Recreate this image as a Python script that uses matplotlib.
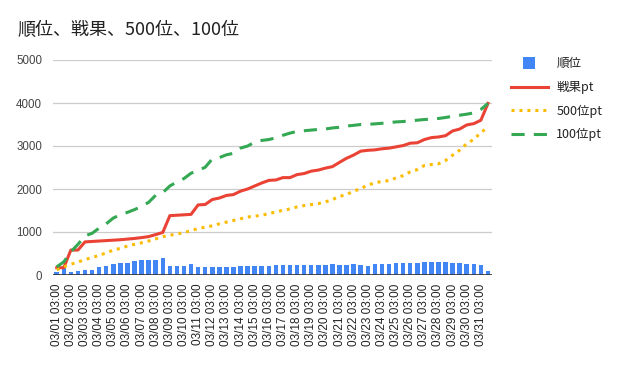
import numpy as np
import matplotlib
matplotlib.use("Agg")
import matplotlib.pyplot as plt
from matplotlib.lines import Line2D

plt.rcParams['font.family'] = ['Liberation Sans', 'Noto Sans CJK JP', 'DejaVu Sans']

# 12時間ごとのデータ (03/01 03:00 〜 03/31 15:00)
days = list(range(1, 32))
hours = ['03:00', '15:00']
labels = [f"03/{d:02d} {h}" for d in days for h in hours]

rank = [75, 170, 75, 100, 120, 120, 175, 215, 245, 270, 290, 315, 340, 360, 360, 385,
        210, 220, 220, 245, 195, 195, 175, 175, 195, 195, 205, 205, 205,
        215, 220, 225, 225, 225, 225, 225, 225, 225, 225, 245, 225, 225, 245, 225,
        220, 250, 250, 250, 275, 275, 275, 275, 300, 300, 300, 300, 275, 275, 250, 250, 230, 95]

senka = [170, 170, 580, 580, 770, 780, 790, 800, 810, 820, 835, 850, 870, 893, 940, 990,
         1380, 1390, 1400, 1410, 1630, 1640, 1755, 1790, 1850, 1870, 1950, 2000, 2070,
         2140, 2200, 2210, 2265, 2265, 2335, 2360, 2415, 2440, 2485, 2520, 2620, 2715, 2790, 2880,
         2900, 2910, 2935, 2950, 2980, 3010, 3065, 3075, 3150, 3195, 3210, 3240, 3350, 3395,
         3490, 3520, 3600, 3990]

pt500 = [120, 190, 250, 300, 360, 407, 455, 515, 580, 620, 673, 713, 750, 790, 840, 893,
         925, 955, 985, 1033, 1080, 1113, 1143, 1190, 1230, 1268, 1308, 1348, 1370,
         1388, 1428, 1466, 1505, 1536, 1584, 1614, 1638, 1660, 1700, 1755, 1826, 1873, 1950, 2007,
         2095, 2140, 2180, 2195, 2258, 2312, 2398, 2452, 2546, 2570, 2585, 2663, 2787, 2904,
         3054, 3155, 3311, 3440]

pt100 = [190, 305, 540, 713, 910, 970, 1090, 1190, 1325, 1400, 1457, 1520, 1598, 1690, 1855, 1915,
         2070, 2165, 2243, 2367, 2430, 2505, 2700, 2730, 2795, 2830, 2950, 3000, 3090,
         3130, 3150, 3190, 3250, 3300, 3340, 3355, 3370, 3385, 3395, 3420, 3435, 3465, 3480, 3500,
         3505, 3515, 3528, 3545, 3560, 3570, 3583, 3600, 3616, 3625, 3640, 3663, 3693, 3716,
         3740, 3770, 3850, 3990]

labels = labels[:len(rank)]

BLUE = '#4285F4'
RED = '#EA4335'
YELLOW = '#FBBC04'
GREEN = '#34A853'

W, H = 617, 365
fig = plt.figure(figsize=(W / 100, H / 100), dpi=100)
ax = fig.add_axes([53.2 / W, 1 - 275 / H, (491.5 - 53.2) / W, (275 - 60) / H])

x = np.arange(len(rank))
ax.bar(x, rank, width=0.64, color=BLUE, zorder=2)
ax.plot(x, senka, color=RED, lw=2.2, zorder=3, solid_joinstyle='round')
ax.plot(x, pt500, color=YELLOW, lw=2.2, linestyle=(0, (1, 1.6)), zorder=3)
ax.plot(x, pt100, color=GREEN, lw=2.2, linestyle=(0, (4.3, 3)), zorder=3)

ax.set_xlim(-0.5, len(rank) - 0.5)
ax.set_ylim(0, 5000)
ax.set_yticks(range(0, 5001, 1000))
ax.grid(axis='y', color='#cccccc', lw=0.9, zorder=0)
ax.axhline(0, color='#333333', lw=1.2, zorder=4)
for s in ax.spines.values():
    s.set_visible(False)

ax.set_xticks(x[::2])
ax.set_xticklabels(labels[::2], rotation=90, fontsize=8.5, color='#222222')
ax.tick_params(axis='x', length=0, pad=6)
ax.tick_params(axis='y', length=0, pad=8, labelsize=8.3, labelcolor='#444444')

fig.text(17 / W, 1 - 30 / H, '順位、戦果、500位、100位', fontsize=13, color='#222222',
         va='center', ha='left', family=['Noto Sans CJK JP', 'DejaVu Sans'])

handles = [
    Line2D([0], [0], color=BLUE, lw=0, marker='s', markersize=9, markeredgewidth=0),
    Line2D([0], [0], color=RED, lw=2.2),
    Line2D([0], [0], color=YELLOW, lw=2.2, linestyle=(0, (1, 1.6))),
    Line2D([0], [0], color=GREEN, lw=2.2, linestyle=(0, (4.3, 3))),
]
leg = fig.legend(handles, ['順位', '戦果pt', '500位pt', '100位pt'],
                 loc='upper left', bbox_to_anchor=(500 / W, 1 - 46 / H),
                 frameon=False, handlelength=2.9, handletextpad=0.7,
                 labelspacing=0.85, prop={'family': ['Noto Sans CJK JP', 'DejaVu Sans'], 'size': 9})
for t in leg.get_texts():
    t.set_color('#222222')

fig.savefig('out.png', dpi=100, facecolor='white')
